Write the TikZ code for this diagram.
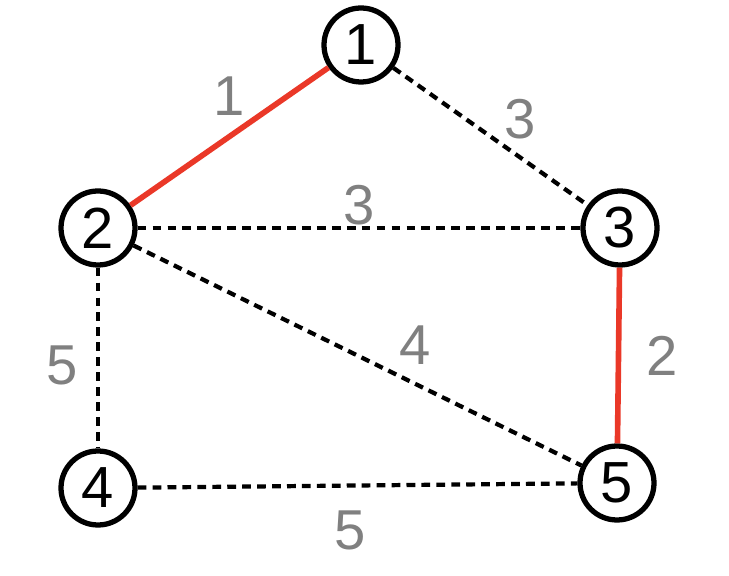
\documentclass[tikz,border=0pt]{standalone}
\usepackage{fontspec}
\setmainfont{Liberation Sans}
\usepackage{xcolor}
\definecolor{mstred}{RGB}{234,56,40}
\definecolor{wgray}{RGB}{128,128,128}

\begin{document}
\begin{tikzpicture}[
  vtx/.style={circle,draw,line width=3pt,minimum size=14.8mm,inner sep=0pt,font=\fontsize{33}{33}\selectfont},
  tree/.style={draw=mstred,line width=3.2pt},
  cand/.style={draw=black,line width=2.4pt,dash pattern=on 5pt off 3.5pt},
  lbl/.style={text=wgray,font=\fontsize{32}{32}\selectfont,midway}
]
\useasboundingbox (0,0) rectangle (14.58,11.52);
\node[vtx] (one) at (7.22,10.62) {1};
\node[vtx] (two) at (1.96,6.96) {2};
\node[vtx] (three) at (12.40,6.96) {3};
\node[vtx] (four) at (1.96,1.76) {4};
\node[vtx] (five) at (12.34,1.86) {5};
\draw[tree] (one)--(two) node[lbl,yshift=8mm] {1};
\draw[cand] (one)--(three) node[lbl,xshift=6mm,yshift=3.4mm] {3};
\draw[cand] (two)--(three) node[lbl,yshift=4.6mm] {3};
\draw[tree] (three)--(five) node[lbl,xshift=8.7mm] {2};
\draw[cand] (two)--(five) node[lbl,xshift=11.5mm,yshift=2.1mm] {4};
\draw[cand] (two)--(four) node[lbl,xshift=-7.2mm,yshift=-1.4mm] {5};
\draw[cand] (four)--(five) node[lbl,xshift=-1.5mm,yshift=-8.9mm] {5};
\end{tikzpicture}
\end{document}
